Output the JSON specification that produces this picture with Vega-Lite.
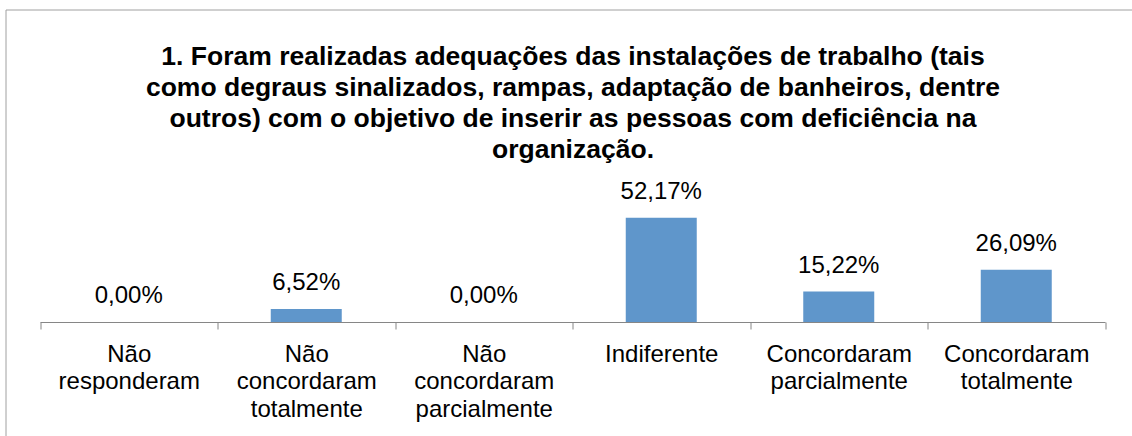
{
  "$schema": "https://vega.github.io/schema/vega-lite/v6.json",
  "autosize": {"type": "none"},
  "width": 1137,
  "height": 437,
  "padding": {"left": 5.5, "top": 9.5, "right": -10.5, "bottom": -10.5},
  "background": "white",
  "view": {"stroke": "#A0A0A0", "strokeWidth": 1, "fill": "white"},
  "config": {
    "locale": {"number": {"decimal": ",", "thousands": ".", "grouping": [3], "currency": ["R$ ", ""]}},
    "font": "Liberation Sans"
  },
  "title": {
    "text": [
      "1. Foram realizadas adequações das instalações de trabalho (tais",
      "como degraus sinalizados, rampas, adaptação de banheiros, dentre",
      "outros) com o objetivo de inserir as pessoas com deficiência na",
      "organização."
    ],
    "font": "Liberation Sans",
    "fontSize": 26.5,
    "fontWeight": "bold",
    "color": "#000000",
    "lineHeight": 31.2,
    "anchor": "middle",
    "frame": "group",
    "offset": -154.5,
    "dx": -1
  },
  "data": {
    "values": [
      {"categoria": "Não responderam", "valor": 0},
      {"categoria": "Não concordaram totalmente", "valor": 0.0652},
      {"categoria": "Não concordaram parcialmente", "valor": 0},
      {"categoria": "Indiferente", "valor": 0.5217},
      {"categoria": "Concordaram parcialmente", "valor": 0.1522},
      {"categoria": "Concordaram totalmente", "valor": 0.2609}
    ]
  },
  "encoding": {
    "x": {
      "field": "categoria",
      "type": "nominal",
      "sort": null,
      "scale": {"range": [34.5, 1099.5], "paddingInner": 0, "paddingOuter": 0},
      "axis": {
        "title": null,
        "orient": "bottom",
        "offset": -124.5,
        "domainColor": "#868686",
        "domainWidth": 1,
        "tickColor": "#868686",
        "tickWidth": 1,
        "tickSize": 7,
        "tickBand": "extent",
        "labelAngle": 0,
        "labelFont": "Liberation Sans",
        "labelFontSize": 24,
        "labelColor": "#000000",
        "labelLineHeight": 27.5,
        "labelPadding": 13,
        "labelExpr": "split(datum.label, ' ')",
        "labelOverlap": false,
        "labelLimit": 0,
        "labelBound": false,
        "labelFlush": false,
        "grid": false
      }
    },
    "y": {
      "field": "valor",
      "type": "quantitative",
      "scale": {"domain": [0, 1], "range": [312.5, 112.5]},
      "axis": null
    }
  },
  "layer": [
    {"mark": {"type": "bar", "color": "#5F96CB", "width": {"band": 0.4}}},
    {
      "mark": {"type": "text", "font": "Liberation Sans", "fontSize": 24, "color": "#000000", "baseline": "alphabetic", "dy": -19},
      "encoding": {"text": {"field": "valor", "type": "quantitative", "format": ".2%"}}
    }
  ]
}
